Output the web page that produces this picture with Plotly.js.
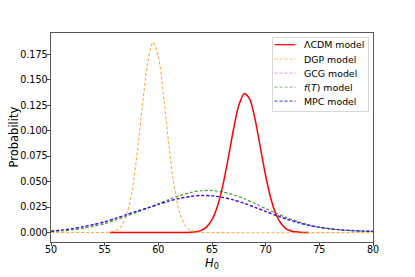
<!DOCTYPE html>
<html>
<head>
<meta charset="utf-8">
<script src="https://cdn.plot.ly/plotly-3.0.1.min.js"></script>
<style>html,body{margin:0;padding:0;background:#fff;}#chart{width:415px;height:277px;}</style>
</head>
<body>
<div id="chart"></div>
<script>
// Broad posteriors on a common H0 grid
var h0Broad = [50,51,52,53,54,55,56,57,58,59,60,61,62,63,64,65,66,67,68,69,70,71,72,73,74,75,76,77,78,79,80];
var gcg = [0.0013,0.0023,0.0036,0.0055,0.0077,0.0102,0.0137,0.0172,0.0207,0.0240,0.0274,0.0306,0.0332,0.0350,0.0360,0.0359,0.0346,0.0322,0.0290,0.0252,0.0211,0.0171,0.0134,0.0101,0.0074,0.0053,0.0038,0.0027,0.0020,0.0015,0.0012];
var fT = [0.0010,0.0016,0.0026,0.0042,0.0062,0.0088,0.0122,0.0160,0.0200,0.0240,0.0282,0.0324,0.0363,0.0393,0.0410,0.0412,0.0398,0.0370,0.0331,0.0285,0.0236,0.0188,0.0144,0.0106,0.0075,0.0052,0.0036,0.0025,0.0018,0.0013,0.0011];
var mpc = [0.0014,0.0025,0.0038,0.0058,0.0080,0.0105,0.0140,0.0175,0.0210,0.0242,0.0277,0.0310,0.0337,0.0356,0.0365,0.0361,0.0345,0.0319,0.0285,0.0246,0.0205,0.0165,0.0129,0.0097,0.0070,0.0050,0.0036,0.0026,0.0019,0.0015,0.0012];

// DGP
var h0Dgp = [50,55,55.5,56,56.5,57,57.5,58,58.5,59,59.5,60,60.5,61,61.5,62,62.5,63,63.5,64,80];
var dgp = [0,0.0001,0.0004,0.0016,0.0055,0.016,0.038,0.075,0.123,0.166,0.1865,0.173,0.133,0.084,0.044,0.019,0.0069,0.0021,0.0005,0.0001,0];

// LCDM
var h0Lcdm = [55.5,62,62.5,63,63.5,64,64.5,65,65.5,66,66.5,67,67.5,68,68.5,69,69.5,70,70.5,71,71.5,72,72.5,73,73.5,74];
var lcdm = [0,0,0.0001,0.0002,0.0007,0.0021,0.0055,0.0126,0.0255,0.0457,0.0723,0.1011,0.1248,0.1362,0.1312,0.1117,0.0839,0.0557,0.0327,0.0169,0.0078,0.0031,0.0011,0.0004,0.0001,0];

var names = ['\u039bCDM model','DGP model','GCG model','<i>f</i>(<i>T</i>) model','MPC model'];
var xTicks = [50,55,60,65,70,75,80];
var yTicks = [0,0.025,0.05,0.075,0.1,0.125,0.15,0.175];

var colors = ['#ff0000','rgba(255,140,0,0.75)','rgba(238,70,238,0.85)','rgba(20,130,20,0.8)','rgba(0,0,255,0.85)'];
var legendColors = ['#ff0000','rgba(255,160,60,0.6)','rgba(238,100,238,0.6)','rgba(60,150,60,0.55)','rgba(30,30,255,0.75)'];
var dashes = ['solid','3px,2px','3px,2px','3px,2px','3px,2px'];

var xs = [h0Lcdm, h0Dgp, h0Broad, h0Broad, h0Broad];
var ys = [lcdm, dgp, gcg, fT, mpc];
var widths = [1.5,1.1,1.3,1.2,1.2];

var traces = names.map(function(n,i){
  return {x:xs[i], y:ys[i], name:n, mode:'lines', showlegend:false,
    line:{color:colors[i], width:widths[i], dash:dashes[i], shape:'spline', smoothing:0.8}};
});

// plot-area geometry (pixels) for legend placement
var L=51, R=42, T=33, B=35, W=415, H=277;
var pw=W-L-R, ph=H-T-B;
function px2x(p){return (p-L)/pw;}
function px2y(p){return (H-B-p)/ph;}

var shapes = [{type:'rect', xref:'paper', yref:'paper', layer:'above',
  x0:px2x(272.5), x1:px2x(368.5), y0:px2y(37.5), y1:px2y(111.5),
  line:{color:'#d8d8d8', width:1}, fillcolor:'rgba(255,255,255,0.85)'}];
var annotations = [];
var entryY = [44.7, 59.1, 73.2, 87.2, 101.1];
names.forEach(function(n,i){
  shapes.push({type:'line', xref:'paper', yref:'paper', layer:'above',
    x0:px2x(274.5), x1:px2x(295.5), y0:px2y(entryY[i]), y1:px2y(entryY[i]),
    line:{color:legendColors[i], width:1.2, dash:dashes[i]}});
  annotations.push({xref:'paper', yref:'paper', x:px2x(303), y:px2y(entryY[i]),
    xanchor:'left', yanchor:'middle', showarrow:false, text:n, borderpad:0,
    font:{family:'DejaVu Sans', size:9.4, color:'#000'}});
});
annotations.push({xref:'paper', yref:'paper', x:px2x(13), y:0.5, xanchor:'center', yanchor:'middle',
  showarrow:false, textangle:-90, text:'Probability', borderpad:0, font:{family:'DejaVu Sans', size:11.5, color:'#000'}});
annotations.push({xref:'paper', yref:'paper', x:0.5, y:px2y(263), xanchor:'center', yanchor:'middle',
  showarrow:false, text:'<i>H</i><sub>0</sub>', borderpad:0, font:{family:'DejaVu Sans', size:11.5, color:'#000'}});

var axisCommon = {
  showline:true, mirror:true, linecolor:'#444', linewidth:0.9,
  ticks:'outside', ticklen:3.5, tickwidth:0.9, tickcolor:'#333',
  showgrid:false, zeroline:false,
  tickfont:{family:'DejaVu Sans', size:9.6, color:'#000'}
};

var layout = {
  width:W, height:H,
  margin:{l:L, r:R, t:T, b:B},
  paper_bgcolor:'#fff', plot_bgcolor:'#fff',
  showlegend:false,
  font:{family:'DejaVu Sans', color:'#000'},
  xaxis: Object.assign({}, axisCommon, {
    range:[50,80], tickvals:xTicks, ticktext:xTicks.map(String), ticklabelstandoff:-5
  }),
  yaxis: Object.assign({}, axisCommon, {
    range:[-0.0093,0.1958], tickvals:yTicks, ticktext:yTicks.map(function(v){return v.toFixed(3);}),
    ticklabelstandoff:-3
  }),
  shapes:shapes,
  annotations:annotations
};

Plotly.newPlot('chart', traces, layout, {displayModeBar:false, staticPlot:true});
</script>
</body>
</html>
